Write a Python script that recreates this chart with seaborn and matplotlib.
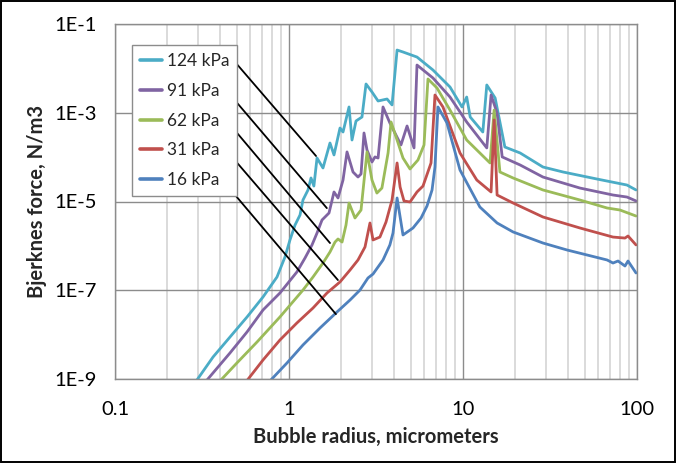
import matplotlib
matplotlib.use("Agg")
import matplotlib.pyplot as plt
import pandas as pd
import seaborn as sns
from matplotlib.lines import Line2D
from matplotlib.patches import Rectangle
from matplotlib.ticker import FixedLocator, FixedFormatter, LogLocator, NullFormatter

# Acoustic pressure amplitudes (legend order) and their series colours
pressures = ["124 kPa", "91 kPa", "62 kPa", "31 kPa", "16 kPa"]
colors = ["#4BACC6", "#8064A2", "#9BBB59", "#C0504D", "#4F81BD"]

# Bubble radius (micrometers) and Bjerknes force (N/m3) for each pressure
radius_124 = [0.29, 0.366, 0.458, 0.574, 0.709, 0.853, 0.948, 1.013, 1.083, 1.157,
              1.203, 1.286, 1.338, 1.39, 1.449, 1.568, 1.72, 1.814, 1.964, 2.044,
              2.213, 2.302, 2.427, 2.627, 2.771, 2.998, 3.25, 3.66, 3.91, 4.18,
              4.52, 5.44, 6.72, 8.42, 9.87, 10.5, 11.0, 13.0, 13.7, 15.3,
              17.4, 21.3, 28.8, 37.6, 58.9, 87.6, 98.7]
force_124 = [8.5e-10, 3.13e-9, 8.83e-9, 2.50e-8, 7.05e-8, 1.99e-7, 5.61e-7, 1.36e-6, 2.95e-6, 4.97e-6,
             1.08e-5, 1.82e-5, 3.39e-5, 2.23e-5, 9.55e-5, 5.69e-5, 2.08e-4, 1.12e-4, 4.53e-4, 3.68e-4,
             1.35e-3, 2.43e-4, 6.52e-4, 8.02e-4, 4.45e-3, 2.94e-3, 1.84e-3, 2.04e-3, 1.50e-3, 2.59e-2,
             2.34e-2, 1.80e-2, 9.19e-3, 3.80e-3, 1.35e-3, 2.26e-3, 8.02e-4, 3.68e-4, 4.22e-3, 2.15e-3,
             1.69e-4, 1.24e-4, 5.99e-5, 4.62e-5, 3.21e-5, 2.35e-5, 1.82e-5]

radius_91 = [0.33, 0.458, 0.574, 0.709, 0.887, 1.11, 1.236, 1.356, 1.449, 1.548,
             1.698, 1.814, 1.913, 2.044, 2.155, 2.333, 2.492, 2.594, 2.698, 2.807,
             2.998, 3.12, 3.25, 3.47, 3.80, 4.40, 4.77, 5.23, 5.44, 6.72,
             8.42, 10.5, 13.7, 14.5, 15.7, 16.8, 21.3, 28.8, 47.0, 72.8,
             87.6, 98.7]
force_91 = [8.5e-10, 3.86e-9, 1.15e-8, 3.59e-8, 8.67e-8, 2.58e-7, 5.33e-7, 1.05e-6, 1.95e-6, 3.83e-6,
            5.51e-6, 1.64e-5, 1.20e-5, 3.05e-5, 1.31e-4, 4.62e-5, 3.56e-5, 4.17e-5, 3.50e-4, 1.45e-4,
            7.76e-5, 1.01e-4, 9.55e-5, 1.35e-3, 5.88e-4, 1.88e-4, 5.03e-4, 1.61e-4, 1.19e-2, 6.07e-3,
            2.26e-3, 6.19e-4, 1.61e-4, 2.51e-3, 9.86e-4, 1.01e-4, 6.65e-5, 3.56e-5, 2.01e-5, 1.40e-5,
            1.26e-5, 1.03e-5]

radius_62 = [0.391, 0.502, 0.655, 0.887, 1.203, 1.374, 1.568, 1.72, 1.839, 1.913,
             2.018, 2.126, 2.213, 2.394, 2.594, 2.807, 2.998, 3.20, 3.42, 3.71,
             3.86, 4.18, 4.52, 4.96, 5.51, 5.97, 6.29, 7.09, 8.42, 10.5,
             14.3, 15.1, 16.3, 19.4, 28.8, 47.0, 67.3, 79.8, 98.7]
force_62 = [8.1e-10, 2.30e-9, 6.82e-9, 2.50e-8, 1.01e-7, 1.99e-7, 4.11e-7, 7.28e-7, 1.22e-6, 1.43e-6,
            1.22e-6, 2.95e-6, 9.25e-6, 4.25e-6, 6.43e-6, 1.31e-4, 3.05e-5, 1.55e-5, 2.01e-5, 1.24e-4,
            6.19e-4, 2.43e-4, 9.55e-5, 5.40e-5, 8.61e-5, 1.88e-4, 5.77e-3, 3.61e-3, 1.15e-3, 2.43e-4,
            7.38e-5, 1.15e-3, 4.62e-5, 3.39e-5, 1.82e-5, 1.08e-5, 7.14e-6, 6.43e-6, 4.71e-6]

radius_31 = [0.559, 0.709, 0.887, 1.11, 1.374, 1.653, 1.964, 2.243, 2.492, 2.734,
             2.92, 3.04, 3.33, 3.61, 3.91, 4.18, 4.35, 4.58, 4.96, 5.44,
             5.89, 6.55, 6.90, 7.67, 9.61, 12.0, 14.5, 15.1, 15.7, 19.4,
             28.8, 47.0, 72.8, 85.3, 88.8, 98.7]
force_31 = [8.1e-10, 2.68e-9, 7.56e-9, 1.83e-8, 3.98e-8, 8.67e-8, 1.54e-7, 2.86e-7, 4.81e-7, 9.44e-7,
            3.28e-6, 1.36e-6, 1.58e-6, 3.45e-6, 1.08e-5, 7.38e-5, 2.12e-5, 1.03e-5, 9.75e-6, 1.64e-5,
            2.23e-5, 7.38e-5, 2.51e-3, 1.35e-3, 1.24e-4, 3.05e-5, 1.64e-5, 6.87e-4, 1.40e-5, 9.25e-6,
            4.48e-6, 2.53e-6, 1.58e-6, 1.50e-6, 1.67e-6, 1.05e-6]

radius_16 = [0.757, 0.974, 1.203, 1.507, 1.888, 2.243, 2.558, 2.844, 3.04, 3.47,
             3.80, 3.96, 4.18, 4.52, 5.16, 5.74, 6.21, 6.64, 6.90, 7.18,
             8.09, 9.61, 12.5, 15.7, 19.4, 28.8, 39.6, 67.3, 72.8, 77.8,
             85.3, 88.8, 98.7]
force_16 = [8.1e-10, 2.30e-9, 5.84e-9, 1.41e-8, 3.24e-8, 6.03e-8, 1.01e-7, 1.89e-7, 2.32e-7, 4.81e-7,
            1.05e-6, 1.95e-6, 1.20e-5, 1.76e-6, 2.53e-6, 4.25e-6, 7.92e-6, 1.82e-5, 5.99e-5, 1.35e-3,
            5.88e-4, 5.13e-5, 7.52e-6, 3.28e-6, 2.06e-6, 1.16e-6, 8.08e-7, 4.81e-7, 4.11e-7, 4.56e-7,
            3.52e-7, 4.56e-7, 2.45e-7]

radii = [radius_124, radius_91, radius_62, radius_31, radius_16]
forces = [force_124, force_91, force_62, force_31, force_16]

# Axis ticks
x_ticks = [0.1, 1, 10, 100]
x_tick_labels = ["0.1", "1", "10", "100"]
y_ticks = [1e-9, 1e-7, 1e-5, 1e-3, 1e-1]
y_tick_labels = ["1E-9", "1E-7", "1E-5", "1E-3", "1E-1"]

# Leader lines: from the end of each legend label to a point on its curve
leader_start = [(0.2299, 0.893), (0.2146, 0.811), (0.2126, 0.730), (0.2146, 0.642), (0.2107, 0.552)]
leader_end = [(1.43, 1.06e-4), (1.65, 7.1e-6), (1.72, 1.16e-6), (1.91, 1.70e-7), (1.86, 2.9e-8)]

frames = [pd.DataFrame({"radius": r, "force": f, "pressure": p})
          for p, r, f in zip(pressures, radii, forces)]
df = pd.concat(frames, ignore_index=True)

sns.set_style("white")
plt.rcParams["font.family"] = ["Lato", "DejaVu Sans"]

fig = plt.figure(figsize=(6.77, 4.63), dpi=100)
ax = fig.add_axes([115 / 677, 84 / 463, 522 / 677, 355 / 463])

sns.lineplot(data=df, x="radius", y="force", hue="pressure", hue_order=pressures,
             palette=colors, estimator=None, sort=False, legend=False,
             linewidth=2.0, ax=ax)

ax.set_xscale("log")
ax.set_yscale("log")
ax.set_xlim(0.1, 100)
ax.set_ylim(1e-9, 1e-1)

grid_major = "#8c8c8c"
grid_minor = "#d4d4d4"
ax.xaxis.set_major_locator(FixedLocator(x_ticks))
ax.xaxis.set_major_formatter(FixedFormatter(x_tick_labels))
ax.xaxis.set_minor_locator(LogLocator(base=10, subs=[2, 3, 4, 5, 6, 7, 8, 9]))
ax.xaxis.set_minor_formatter(NullFormatter())
ax.yaxis.set_major_locator(FixedLocator(y_ticks))
ax.yaxis.set_major_formatter(FixedFormatter(y_tick_labels))
ax.yaxis.set_minor_locator(FixedLocator([]))

ax.grid(which="major", axis="both", color=grid_major, linewidth=1.0)
ax.grid(which="minor", axis="x", color=grid_minor, linewidth=1.2)
ax.set_axisbelow(True)
for side in ax.spines.values():
    side.set_color(grid_major)
    side.set_linewidth(1.0)

ax.tick_params(axis="both", which="major", direction="out", length=5, width=1.0,
               color=grid_major, labelsize=14.5, labelcolor="black")
ax.tick_params(axis="x", which="major", pad=11)
ax.tick_params(axis="y", which="major", pad=8)
ax.tick_params(which="minor", length=0)

ax.set_xlabel("Bubble radius, micrometers", fontsize=14.5, fontweight="bold", labelpad=6)
ax.set_ylabel("Bjerknes force, N/m3", fontsize=14.5, fontweight="bold", labelpad=5)

handles = [Line2D([], [], color=c, linewidth=2.6) for c in colors]
leg = ax.legend(handles, pressures, loc="upper left", bbox_to_anchor=(0.0326, 0.9408),
                frameon=True, fancybox=False, framealpha=1, edgecolor="#8c8c8c",
                fontsize=12.5, handlelength=1.3, handletextpad=0.25,
                labelspacing=0.8, borderpad=0.45, borderaxespad=0)
leg.get_frame().set_linewidth(1.0)

for start, end in zip(leader_start, leader_end):
    ax.annotate("", xy=end, xycoords="data", xytext=start, textcoords="axes fraction",
                arrowprops=dict(arrowstyle="-", color="black", linewidth=1.3,
                                shrinkA=0, shrinkB=0))

fig.add_artist(Rectangle((0.0015, 0.002), 0.996, 0.995, transform=fig.transFigure,
                         fill=False, edgecolor="black", linewidth=1.4))

fig.savefig("out.png", dpi=100, facecolor="white")
